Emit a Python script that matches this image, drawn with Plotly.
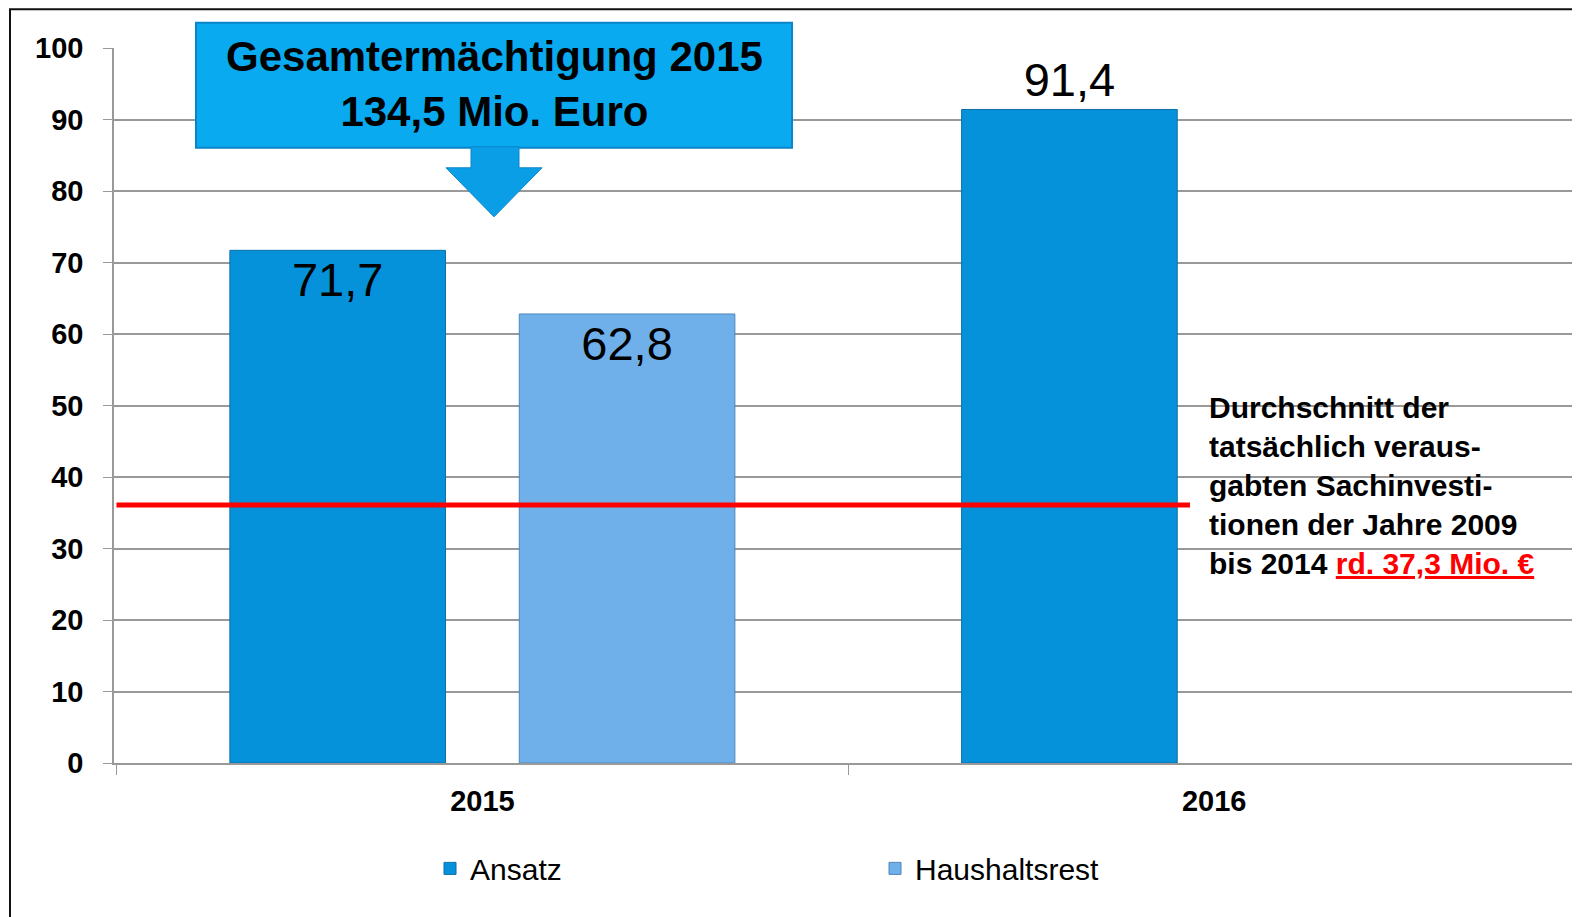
import plotly.graph_objects as go

# ---- data ----
years = ["2015", "2016"]
ansatz = [71.7, 91.4]
haushaltsrest = [62.8, None]
ansatz_labels = ["71,7", "91,4"]
haushaltsrest_labels = ["62,8", ""]
avg_value = 36.1
y_ticks = [0, 10, 20, 30, 40, 50, 60, 70, 80, 90, 100]

FONT = "Liberation Sans, Arial, sans-serif"
OFF = 8  # default page body margin

fig = go.Figure()
fig.add_trace(go.Bar(
    x=years, y=ansatz, name="Ansatz",
    text=ansatz_labels, textposition=["inside", "outside"],
    insidetextanchor="end", textangle=0,
    insidetextfont=dict(family=FONT, size=47, color="black"),
    outsidetextfont=dict(family=FONT, size=47, color="black"),
    marker=dict(color="#0592db", line=dict(color="#0a6fa8", width=1)),
    cliponaxis=False,
))
fig.add_trace(go.Bar(
    x=years, y=haushaltsrest, name="Haushaltsrest",
    text=haushaltsrest_labels, textposition="inside",
    insidetextanchor="end", textangle=0,
    insidetextfont=dict(family=FONT, size=47, color="black"),
    marker=dict(color="#6fb0ea", line=dict(color="#4f86b8", width=1)),
))

# page-pixel -> paper conversions (plot area in page pixels)
L, T, W, H = 114, 48.3, 1466, 714.4
def px(x): return (x - L) / W
def py(y): return 1 - (y - T) / H

shapes = []
# average line
shapes.append(dict(type="line", xref="x", yref="y", x0=-0.5, x1=0.967,
                   y0=avg_value, y1=avg_value, line=dict(color="#ff0000", width=5)))
# frame
shapes.append(dict(type="rect", xref="paper", yref="paper", x0=px(10), x1=1.05,
                   y0=-0.4, y1=py(9.5), line=dict(color="#111111", width=2),
                   fillcolor="rgba(0,0,0,0)", layer="below"))
# callout box
shapes.append(dict(type="rect", xref="paper", yref="paper",
                   x0=px(196), x1=px(792), y0=py(148), y1=py(23),
                   fillcolor="#0aaaf0", line=dict(color="#0a85c8", width=2)))
arrow_path = "M {a},{b} L {c},{b} L {c},{d} L {e},{d} L {f},{g} L {h},{d} L {i},{d} L {i},{b} Z".format(
    a=px(471), b=py(147), c=px(519), d=py(168), e=px(542), f=px(494), g=py(217),
    h=px(446), i=px(471))
shapes.append(dict(type="path", xref="paper", yref="paper", path=arrow_path,
                   fillcolor="#0a9ee6", line=dict(color="#0a85c8", width=1)))

annotations = [
    dict(xref="paper", yref="paper", x=px(494), y=py(84), xanchor="center", yanchor="middle",
         text="<b>Gesamtermächtigung 2015<br>134,5 Mio. Euro</b>", showarrow=False,
         font=dict(family=FONT, size=42, color="black")),
    dict(xref="paper", yref="paper", x=px(1207), y=py(485), xanchor="left", yanchor="middle",
         align="left", showarrow=False,
         text=("<b>Durchschnitt der<br>tatsächlich veraus-<br>gabten Sachinvesti-<br>"
               "tionen der Jahre 2009<br>bis 2014 <span style='color:#ff0000;text-decoration:underline'>"
               "rd. 37,3 Mio. €</span></b>"),
         font=dict(family=FONT, size=30, color="black")),
]

fig.update_layout(
    width=1580 - OFF, height=917 - OFF,
    margin=dict(l=114 - OFF, r=0, t=48 - OFF, b=154),
    paper_bgcolor="white", plot_bgcolor="white",
    barmode="group", bargap=0.209, bargroupgap=0.255,
    shapes=shapes, annotations=annotations,
    showlegend=True,
    legend=dict(orientation="h", x=px(430), y=py(868), xanchor="left", yanchor="middle",
                font=dict(family=FONT, size=30, color="black"),
                entrywidth=400, itemwidth=30, traceorder="normal"),
    font=dict(family=FONT),
)
fig.update_yaxes(range=[0, 100], tickvals=y_ticks, showgrid=True, gridcolor="#999999",
                 gridwidth=1.5, showline=True, linecolor="#999999", linewidth=1.5,
                 ticks="outside", ticklen=9, tickcolor="#999999",
                 ticklabelstandoff=14,
                 tickfont=dict(family=FONT, size=29, color="black", weight="bold"),
                 zeroline=False, fixedrange=True)
fig.update_xaxes(showline=True, linecolor="#999999", linewidth=1.5,
                 ticks="outside", tickson="boundaries", ticklen=10, tickcolor="#999999",
                 ticklabelstandoff=11,
                 tickfont=dict(family=FONT, size=29, color="black", weight="bold"))

fig.write_html("out.html")
